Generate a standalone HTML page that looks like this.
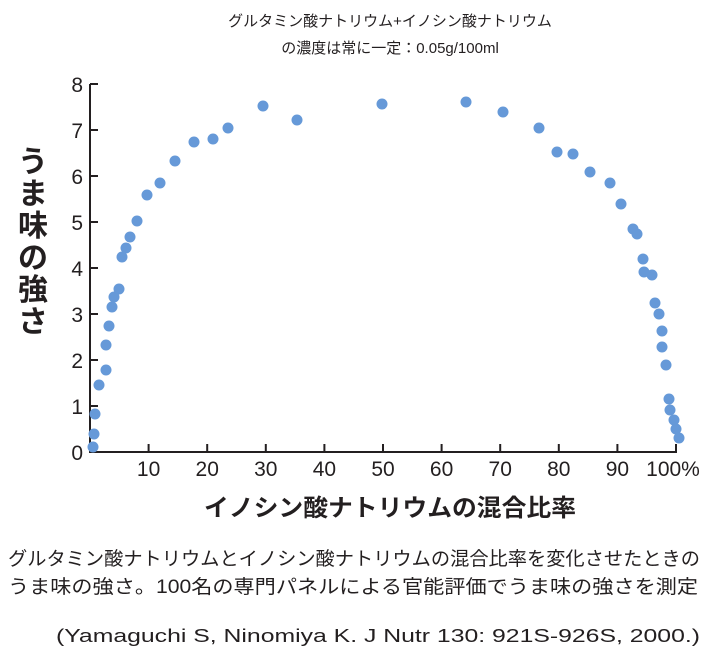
<!DOCTYPE html>
<html><head><meta charset="utf-8"><style>
html,body{margin:0;padding:0;background:#fff;}
svg{display:block;}
text{font-family:"Liberation Sans","Noto Sans CJK JP",sans-serif;fill:#231f20;}
</style></head><body>
<svg width="712" height="652" viewBox="0 0 712 652" xmlns="http://www.w3.org/2000/svg">
<text x="390" y="26" font-size="15" text-anchor="middle">グルタミン酸ナトリウム+イノシン酸ナトリウム</text>
<text x="390" y="53" font-size="15" text-anchor="middle">の濃度は常に一定：0.05g/100ml</text>
<g stroke="#231f20" stroke-width="2" fill="none">
<line x1="90" y1="84" x2="90" y2="453"/>
<line x1="89" y1="452" x2="677" y2="452"/>
<line x1="90" y1="84" x2="98" y2="84"/><line x1="90" y1="130" x2="98" y2="130"/>
<line x1="90" y1="176" x2="98" y2="176"/><line x1="90" y1="222" x2="98" y2="222"/>
<line x1="90" y1="268" x2="98" y2="268"/><line x1="90" y1="314" x2="98" y2="314"/>
<line x1="90" y1="360" x2="98" y2="360"/><line x1="90" y1="406" x2="98" y2="406"/>
<line x1="148.6" y1="452" x2="148.6" y2="444"/><line x1="207.2" y1="452" x2="207.2" y2="444"/>
<line x1="265.8" y1="452" x2="265.8" y2="444"/><line x1="324.4" y1="452" x2="324.4" y2="444"/>
<line x1="383" y1="452" x2="383" y2="444"/><line x1="441.6" y1="452" x2="441.6" y2="444"/>
<line x1="500.2" y1="452" x2="500.2" y2="444"/><line x1="558.8" y1="452" x2="558.8" y2="444"/>
<line x1="617.4" y1="452" x2="617.4" y2="444"/><line x1="676" y1="452" x2="676" y2="444"/>
</g>
<g font-size="21" text-anchor="end">
<text x="83" y="92">8</text><text x="83" y="138">7</text><text x="83" y="184">6</text>
<text x="83" y="230">5</text><text x="83" y="276">4</text><text x="83" y="322">3</text>
<text x="83" y="368">2</text><text x="83" y="414">1</text><text x="83" y="460">0</text>
</g>
<g font-size="21" text-anchor="middle">
<text x="148.6" y="476">10</text><text x="207.2" y="476">20</text><text x="265.8" y="476">30</text>
<text x="324.4" y="476">40</text><text x="383" y="476">50</text><text x="441.6" y="476">60</text>
<text x="500.2" y="476">70</text><text x="558.8" y="476">80</text><text x="617.4" y="476">90</text>
<text x="673" y="476">100%</text>
</g>
<g fill="#6699d8">
<circle cx="93" cy="447" r="5.5"/><circle cx="94" cy="434" r="5.5"/><circle cx="95" cy="414" r="5.5"/>
<circle cx="99" cy="385" r="5.5"/><circle cx="106" cy="370" r="5.5"/><circle cx="106" cy="345" r="5.5"/>
<circle cx="109" cy="326" r="5.5"/><circle cx="112" cy="307" r="5.5"/><circle cx="114" cy="297" r="5.5"/>
<circle cx="119" cy="289" r="5.5"/><circle cx="122" cy="257" r="5.5"/><circle cx="126" cy="248" r="5.5"/>
<circle cx="130" cy="237" r="5.5"/><circle cx="137" cy="221" r="5.5"/><circle cx="147" cy="195" r="5.5"/>
<circle cx="160" cy="183" r="5.5"/><circle cx="175" cy="161" r="5.5"/><circle cx="194" cy="142" r="5.5"/>
<circle cx="213" cy="139" r="5.5"/><circle cx="228" cy="128" r="5.5"/><circle cx="263" cy="106" r="5.5"/>
<circle cx="297" cy="120" r="5.5"/><circle cx="382" cy="104" r="5.5"/><circle cx="466" cy="102" r="5.5"/>
<circle cx="503" cy="112" r="5.5"/><circle cx="539" cy="128" r="5.5"/><circle cx="557" cy="152" r="5.5"/>
<circle cx="573" cy="154" r="5.5"/><circle cx="590" cy="172" r="5.5"/><circle cx="610" cy="183" r="5.5"/>
<circle cx="621" cy="204" r="5.5"/><circle cx="633" cy="229" r="5.5"/><circle cx="637" cy="234" r="5.5"/>
<circle cx="643" cy="259" r="5.5"/><circle cx="644" cy="272" r="5.5"/><circle cx="652" cy="275" r="5.5"/>
<circle cx="655" cy="303" r="5.5"/><circle cx="659" cy="314" r="5.5"/><circle cx="662" cy="331" r="5.5"/>
<circle cx="662" cy="347" r="5.5"/><circle cx="666" cy="365" r="5.5"/><circle cx="669" cy="399" r="5.5"/>
<circle cx="670" cy="410" r="5.5"/><circle cx="674" cy="420" r="5.5"/><circle cx="676" cy="429" r="5.5"/>
<circle cx="679" cy="438" r="5.5"/>
</g>
<g font-size="30" font-weight="bold" text-anchor="middle">
<text x="33" y="172">う</text><text x="33" y="204">ま</text><text x="33" y="236">味</text>
<text x="33" y="268">の</text><text x="33" y="300">強</text><text x="33" y="332">さ</text>
</g>
<text x="390" y="516" font-size="24" font-weight="bold" text-anchor="middle" textLength="372" lengthAdjust="spacingAndGlyphs">イノシン酸ナトリウムの混合比率</text>
<text x="8" y="565" font-size="19" textLength="692" lengthAdjust="spacingAndGlyphs">グルタミン酸ナトリウムとイノシン酸ナトリウムの混合比率を変化させたときの</text>
<text x="8" y="593" font-size="19" textLength="690" lengthAdjust="spacingAndGlyphs">うま味の強さ。100名の専門パネルによる官能評価でうま味の強さを測定</text>
<text x="56" y="642" font-size="18" textLength="644" lengthAdjust="spacingAndGlyphs">(Yamaguchi S, Ninomiya K. J Nutr 130:  921S-926S, 2000.)</text>
</svg>
</body></html>
